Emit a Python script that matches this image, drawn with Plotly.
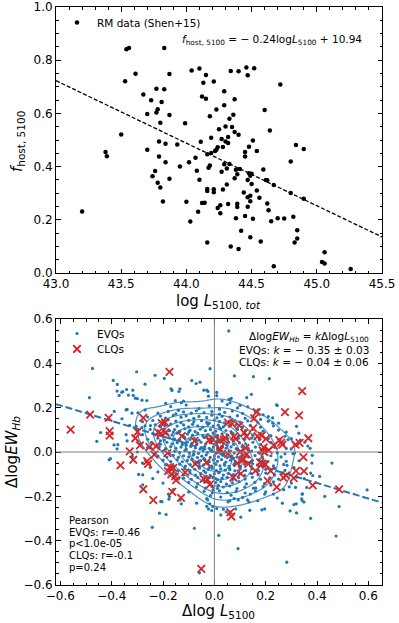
import numpy as np
import plotly.graph_objects as go

W, H = 399, 623

# ---------------- data: top panel (RM sample) ----------------
rm_points = [
    (43.20, 0.231), (43.38, 0.455), (43.39, 0.439), (43.50, 0.521), (43.53, 0.721),
    (43.54, 0.841), (43.56, 0.846), (43.61, 0.749), (43.67, 0.671), (43.70, 0.463),
    (43.70, 0.598), (43.73, 0.649), (43.74, 0.364), (43.76, 0.383), (43.77, 0.603),
    (43.77, 0.693), (43.78, 0.616), (43.78, 0.339), (43.79, 0.438), (43.80, 0.565),
    (43.80, 0.321), (43.79, 0.494), (43.81, 0.643), (43.82, 0.269), (43.83, 0.846),
    (43.83, 0.691), (43.84, 0.416), (43.84, 0.486), (43.87, 0.748), (43.87, 0.594),
    (43.87, 0.354), (43.93, 0.483), (43.95, 0.400), (43.99, 0.563), (44.00, 0.268),
    (44.02, 0.416), (44.03, 0.194), (44.04, 0.761), (44.07, 0.433), (44.08, 0.384),
    (44.09, 0.230), (44.10, 0.769), (44.10, 0.351), (44.11, 0.493), (44.12, 0.664),
    (44.12, 0.263), (44.13, 0.715), (44.14, 0.264), (44.15, 0.655), (44.15, 0.744),
    (44.16, 0.446), (44.16, 0.316), (44.16, 0.308), (44.16, 0.115), (44.17, 0.396),
    (44.18, 0.589), (44.18, 0.404), (44.19, 0.451), (44.19, 0.508), (44.21, 0.720),
    (44.21, 0.315), (44.21, 0.304), (44.22, 0.459), (44.23, 0.463), (44.23, 0.615),
    (44.24, 0.473), (44.24, 0.244), (44.25, 0.540), (44.26, 0.225), (44.26, 0.255),
    (44.27, 0.381), (44.27, 0.504), (44.28, 0.314), (44.28, 0.474), (44.29, 0.631),
    (44.29, 0.409), (44.29, 0.683), (44.30, 0.494), (44.30, 0.551), (44.31, 0.393),
    (44.31, 0.333), (44.32, 0.489), (44.32, 0.259), (44.32, 0.511), (44.33, 0.580),
    (44.33, 0.410), (44.34, 0.759), (44.34, 0.100), (44.35, 0.549), (44.36, 0.595),
    (44.37, 0.530), (44.37, 0.356), (44.37, 0.653), (44.38, 0.388), (44.38, 0.206),
    (44.39, 0.260), (44.39, 0.248), (44.39, 0.371), (44.40, 0.520), (44.40, 0.758),
    (44.40, 0.090), (44.41, 0.391), (44.42, 0.159), (44.44, 0.303), (44.45, 0.455),
    (44.45, 0.214), (44.45, 0.438), (44.46, 0.773), (44.47, 0.743), (44.47, 0.350),
    (44.47, 0.249), (44.47, 0.285), (44.48, 0.475), (44.48, 0.375), (44.49, 0.134),
    (44.49, 0.290), (44.49, 0.270), (44.49, 0.366), (44.50, 0.373), (44.50, 0.335),
    (44.51, 0.498), (44.51, 0.204), (44.52, 0.770), (44.54, 0.459), (44.54, 0.310),
    (44.56, 0.283), (44.57, 0.118), (44.59, 0.389), (44.60, 0.613), (44.61, 0.350),
    (44.62, 0.349), (44.62, 0.261), (44.63, 0.236), (44.64, 0.536), (44.65, 0.195),
    (44.67, 0.331), (44.67, 0.025), (44.70, 0.206), (44.72, 0.709), (44.75, 0.205),
    (44.80, 0.419), (44.80, 0.301), (44.82, 0.211), (44.83, 0.115), (44.84, 0.481),
    (44.85, 0.130), (44.85, 0.161), (44.90, 0.466), (44.90, 0.279), (45.04, 0.041),
    (45.06, 0.036), (45.06, 0.078), (45.26, 0.015),
]
top_fit_slope = -0.235
top_fit_intercept = 10.828

top_xticks = [43.0, 43.5, 44.0, 44.5, 45.0, 45.5]
top_xticktext = ["43.0", "43.5", "44.0", "44.5", "45.0", "45.5"]
top_yticks = [0.0, 0.2, 0.4, 0.6, 0.8, 1.0]
top_yticktext = ["0.0", "0.2", "0.4", "0.6", "0.8", "1.0"]

# ---------------- data: bottom panel ----------------
clq_points = [
    (-0.560, 0.101), (-0.484, 0.169), (-0.412, 0.154), (-0.408, 0.094), (-0.408, 0.074),
    (-0.366, -0.060), (-0.330, 0.003), (-0.316, -0.035), (-0.308, 0.062), (-0.299, 0.091),
    (-0.290, 0.030), (-0.277, 0.154), (-0.277, -0.168), (-0.262, -0.041), (-0.258, -0.054),
    (-0.253, 0.023), (-0.238, -0.217), (-0.234, -0.012), (-0.227, 0.026), (-0.219, 0.089),
    (-0.209, 0.083), (-0.205, 0.130), (-0.192, 0.134), (-0.190, 0.088), (-0.183, -0.005),
    (-0.181, -0.086), (-0.175, 0.361), (-0.173, -0.068), (-0.168, -0.101), (-0.164, -0.180),
    (-0.160, -0.072), (-0.153, -0.110), (-0.149, -0.127), (-0.127, 0.072), (-0.130, -0.207),
    (-0.114, -0.092), (-0.077, 0.050), (-0.074, -0.054), (-0.051, -0.527), (-0.042, -0.121),
    (-0.031, -0.047), (-0.027, -0.125), (-0.021, 0.053), (-0.017, -0.146), (-0.006, 0.057),
    (0.021, 0.015), (0.023, 0.008), (0.022, 0.054), (0.036, 0.056), (0.043, 0.063),
    (0.053, -0.008), (0.053, 0.133), (0.062, -0.272), (0.066, -0.291), (0.069, 0.127),
    (0.074, -0.115), (0.077, 0.071), (0.083, 0.059), (0.090, -0.050), (0.097, 0.119),
    (0.101, 0.002), (0.103, -0.098), (0.108, -0.038), (0.113, -0.033), (0.116, 0.086),
    (0.121, 0.018), (0.125, 0.071), (0.126, -0.011), (0.132, -0.054), (0.151, 0.107),
    (0.155, 0.152), (0.160, -0.085), (0.165, 0.180), (0.168, 0.071), (0.178, -0.047),
    (0.184, 0.074), (0.186, -0.053), (0.188, 0.006), (0.192, 0.021), (0.195, 0.000),
    (0.201, 0.059), (0.208, -0.130), (0.219, -0.085), (0.232, 0.030), (0.243, -0.158),
    (0.253, 0.054), (0.260, 0.042), (0.265, 0.033), (0.269, -0.116), (0.275, 0.180),
    (0.309, -0.118), (0.316, 0.033), (0.318, -0.085), (0.330, 0.165), (0.332, 0.041),
    (0.342, 0.275), (0.347, -0.023), (0.349, -0.086), (0.366, 0.062), (0.383, -0.151),
    (0.486, -0.169), (0.279, -0.106), (0.199, -0.056), (0.212, 0.008),
]

evq_points = [
    # scattered outliers
    (0.056, 0.546), (-0.475, 0.377), (-0.017, 0.376), (-0.487, 0.245), (-0.394, 0.323),
    (-0.378, 0.305), (-0.303, 0.362), (-0.270, 0.306), (-0.231, 0.346), (-0.195, 0.332),
    (-0.169, 0.285), (-0.134, 0.285), (-0.138, 0.273), (-0.088, 0.322), (-0.056, 0.315),
    (-0.029, 0.279), (-0.025, 0.273), (-0.023, 0.252), (0.078, 0.343), (0.152, 0.340),
    (0.214, 0.331), (0.242, 0.213), (0.126, 0.245), (0.144, 0.260), (0.061, 0.237),
    (0.066, 0.242), (-0.458, 0.048), (-0.443, 0.088), (-0.410, -0.035), (-0.405, -0.030),
    (-0.391, 0.032), (-0.379, 0.275), (-0.371, 0.255), (-0.357, 0.272), (-0.344, 0.190),
    (-0.342, 0.282), (-0.335, 0.257), (-0.318, 0.279), (-0.316, 0.255), (-0.308, 0.243),
    (-0.295, -0.101), (-0.279, -0.148), (-0.242, -0.340), (-0.214, -0.276), (-0.209, -0.223),
    (-0.188, -0.282), (-0.179, -0.190), (-0.177, -0.213), (-0.134, -0.216), (-0.129, -0.234),
    (-0.078, -0.344), (-0.069, -0.231), (-0.030, -0.245), (-0.023, -0.257), (-0.018, -0.234),
    (-0.010, -0.264), (0.017, -0.376), (0.035, -0.258), (0.092, -0.436), (0.083, -0.257),
    (0.103, -0.294), (0.282, -0.497), (0.310, -0.237), (0.319, -0.234), (0.342, -0.219),
    (0.375, -0.299), (0.342, -0.190), (0.458, -0.050), (0.474, -0.379), (0.486, -0.246),
    (0.595, -0.171), (0.383, -0.106), (0.375, -0.095), (0.352, 0.044), (0.364, 0.027),
    (0.373, 0.017), (0.329, 0.085), (0.335, 0.054), (0.299, 0.014), (0.306, -0.008),
    (0.275, -0.008), (0.283, -0.060), (0.230, -0.190), (0.196, -0.190), (0.161, -0.163),
    (0.169, -0.220), (-0.058, -0.545), (-0.390, 0.183), (-0.376, 0.033), (-0.379, 0.014),
    (-0.361, 0.269), (-0.300, 0.241), (-0.282, 0.234), (-0.263, 0.232), (-0.165, 0.278),
    (-0.152, 0.232), (-0.129, 0.222), (-0.071, 0.309), (-0.041, 0.279), (-0.340, 0.192),
    (-0.321, 0.175), (-0.298, 0.177), (-0.305, 0.116), (-0.282, 0.110), (-0.249, 0.119),
    (-0.344, 0.078), (0.312, -0.005), (0.381, -0.015), (0.009, -0.255), (0.025, -0.284),
    (0.046, -0.270), (0.138, -0.263), (0.185, -0.261), (0.196, -0.257), (0.295, -0.266),
    (0.320, -0.275), (0.265, -0.231), (0.340, -0.211), (0.349, -0.226), (0.245, -0.208),
    (0.343, -0.189), (0.292, -0.157), (0.316, -0.160), (0.321, -0.113), (0.129, -0.216),
    (0.134, -0.225), (0.053, -0.225), (0.077, -0.210), (0.093, -0.216), (0.009, 0.269),
    (0.009, 0.254), (0.057, 0.237), (0.061, 0.222), (0.245, 0.210), (0.320, 0.116),
    (0.227, 0.154), (0.227, 0.131), (0.275, 0.071), (0.287, 0.056), (0.320, 0.030),
    (-0.279, -0.103), (-0.204, -0.224), (-0.175, -0.201), (-0.026, -0.216), (-0.006, -0.246),
    (-0.36, 0.15), (-0.33, 0.12), (-0.34, 0.05), (-0.32, -0.02), (-0.30, 0.00),
    (-0.28, -0.05), (-0.27, 0.19), (-0.25, -0.07), (-0.24, -0.12), (-0.22, -0.09),
    (-0.20, -0.14), (-0.19, 0.22), (-0.16, -0.17), (-0.14, -0.12), (-0.12, 0.23),
    (0.03, 0.23), (0.10, 0.21), (0.17, 0.19), (0.21, 0.16), (0.25, 0.13),
    (0.28, 0.09), (0.30, 0.06), (0.33, -0.04), (0.31, -0.07), (0.30, -0.14),
    (0.27, -0.17), (0.22, -0.15), (0.20, -0.18), (0.14, -0.19), (0.06, -0.22),
    (-0.03, -0.21), (-0.10, -0.18), (-0.21, 0.05), (-0.26, 0.02), (0.35, -0.12),
    (0.38, -0.05), (0.36, -0.16), (0.41, -0.11), (0.43, -0.20),
    # dense core
    (-0.17, 0.205), (-0.11, 0.212), (-0.06, 0.196), (-0.02, 0.208), (0.02, 0.193),
    (0.05, 0.214), (0.09, 0.199), (-0.14, 0.188), (0.13, 0.204),
    (-0.22, 0.176), (-0.18, 0.183), (-0.15, 0.172), (-0.12, 0.181), (-0.09, 0.175),
    (-0.07, 0.186), (-0.04, 0.178), (-0.01, 0.183), (0.02, 0.171), (0.04, 0.179),
    (0.07, 0.185), (0.11, 0.174), (0.16, 0.182), (0.19, 0.168),
    (-0.26, 0.158), (-0.21, 0.162), (-0.19, 0.153), (-0.16, 0.165), (-0.13, 0.157),
    (-0.11, 0.163), (-0.08, 0.152), (-0.06, 0.161), (-0.03, 0.156), (-0.01, 0.166),
    (0.01, 0.154), (0.03, 0.161), (0.06, 0.158), (0.09, 0.164), (0.12, 0.152),
    (0.15, 0.159), (0.18, 0.147),
    (-0.28, 0.137), (-0.24, 0.142), (-0.20, 0.134), (-0.18, 0.145), (-0.15, 0.139),
    (-0.13, 0.132), (-0.10, 0.143), (-0.08, 0.136), (-0.05, 0.141), (-0.03, 0.133),
    (0.00, 0.144), (0.02, 0.138), (0.04, 0.131), (0.07, 0.142), (0.10, 0.135),
    (0.13, 0.140), (0.17, 0.131), (0.21, 0.139),
    (-0.27, 0.118), (-0.23, 0.123), (-0.21, 0.114), (-0.19, 0.121), (-0.17, 0.126),
    (-0.145, 0.117), (-0.12, 0.122), (-0.10, 0.113), (-0.085, 0.125), (-0.065, 0.118),
    (-0.045, 0.112), (-0.025, 0.124), (-0.005, 0.117), (0.015, 0.121), (0.035, 0.113),
    (0.06, 0.119), (0.085, 0.124), (0.11, 0.114), (0.14, 0.120), (0.18, 0.112),
    (0.23, 0.118),
    (-0.30, 0.097), (-0.25, 0.102), (-0.22, 0.094), (-0.195, 0.104), (-0.175, 0.096),
    (-0.155, 0.101), (-0.135, 0.093), (-0.115, 0.105), (-0.095, 0.098), (-0.075, 0.092),
    (-0.055, 0.103), (-0.035, 0.096), (-0.015, 0.101), (0.005, 0.094), (0.025, 0.104),
    (0.045, 0.097), (0.065, 0.092), (0.09, 0.102), (0.12, 0.096), (0.15, 0.103),
    (0.19, 0.094), (0.25, 0.099),
    (-0.28, 0.078), (-0.24, 0.083), (-0.21, 0.075), (-0.185, 0.082), (-0.165, 0.077),
    (-0.145, 0.085), (-0.125, 0.074), (-0.105, 0.081), (-0.085, 0.076), (-0.065, 0.084),
    (-0.045, 0.073), (-0.025, 0.079), (-0.005, 0.086), (0.012, 0.075), (0.03, 0.082),
    (0.05, 0.077), (0.072, 0.084), (0.095, 0.074), (0.12, 0.081), (0.15, 0.076),
    (0.18, 0.083), (0.22, 0.074),
    (-0.26, 0.057), (-0.22, 0.062), (-0.195, 0.054), (-0.175, 0.063), (-0.155, 0.058),
    (-0.135, 0.052), (-0.115, 0.064), (-0.095, 0.056), (-0.078, 0.061), (-0.06, 0.053),
    (-0.04, 0.065), (-0.022, 0.058), (-0.005, 0.052), (0.013, 0.063), (0.032, 0.056),
    (0.052, 0.061), (0.072, 0.054), (0.094, 0.062), (0.118, 0.057), (0.145, 0.063),
    (0.175, 0.055), (0.21, 0.061), (0.255, 0.056),
    (-0.29, 0.038), (-0.245, 0.043), (-0.21, 0.035), (-0.185, 0.044), (-0.165, 0.037),
    (-0.145, 0.042), (-0.125, 0.034), (-0.105, 0.045), (-0.088, 0.039), (-0.07, 0.033),
    (-0.052, 0.044), (-0.034, 0.036), (-0.016, 0.042), (0.0, 0.035), (0.018, 0.045),
    (0.036, 0.038), (0.055, 0.043), (0.075, 0.034), (0.098, 0.041), (0.122, 0.036),
    (0.15, 0.044), (0.18, 0.035), (0.22, 0.042), (0.27, 0.037),
    (-0.25, 0.018), (-0.215, 0.023), (-0.19, 0.015), (-0.17, 0.024), (-0.15, 0.017),
    (-0.13, 0.022), (-0.11, 0.014), (-0.092, 0.025), (-0.074, 0.018), (-0.056, 0.013),
    (-0.038, 0.024), (-0.02, 0.016), (-0.004, 0.022), (0.012, 0.014), (0.028, 0.025),
    (0.046, 0.017), (0.065, 0.023), (0.085, 0.015), (0.108, 0.024), (0.132, 0.016),
    (0.16, 0.022), (0.195, 0.014), (0.235, 0.021), (0.28, 0.016),
    (-0.23, -0.003), (-0.20, 0.004), (-0.175, -0.005), (-0.155, 0.003), (-0.135, -0.002),
    (-0.115, 0.006), (-0.097, -0.004), (-0.08, 0.002), (-0.062, -0.006), (-0.044, 0.005),
    (-0.027, -0.002), (-0.01, 0.004), (0.006, -0.005), (0.022, 0.003), (0.039, -0.003),
    (0.057, 0.005), (0.077, -0.004), (0.098, 0.002), (0.12, -0.005), (0.145, 0.004),
    (0.172, -0.003), (0.205, 0.003), (0.245, -0.004),
    (-0.22, -0.018), (-0.185, -0.023), (-0.16, -0.015), (-0.14, -0.024), (-0.12, -0.017),
    (-0.10, -0.022), (-0.083, -0.014), (-0.066, -0.025), (-0.049, -0.019), (-0.032, -0.013),
    (-0.016, -0.024), (0.0, -0.017), (0.016, -0.022), (0.033, -0.015), (0.05, -0.025),
    (0.068, -0.018), (0.088, -0.023), (0.11, -0.015), (0.133, -0.022), (0.158, -0.016),
    (0.185, -0.024), (0.22, -0.017), (0.26, -0.022),
    (-0.20, -0.037), (-0.17, -0.043), (-0.145, -0.035), (-0.125, -0.044), (-0.105, -0.038),
    (-0.088, -0.033), (-0.071, -0.045), (-0.054, -0.039), (-0.037, -0.034), (-0.02, -0.044),
    (-0.004, -0.036), (0.012, -0.042), (0.028, -0.034), (0.045, -0.045), (0.063, -0.037),
    (0.082, -0.043), (0.102, -0.035), (0.124, -0.044), (0.148, -0.038), (0.175, -0.034),
    (0.205, -0.043), (0.24, -0.036), (0.28, -0.042),
    (-0.19, -0.058), (-0.16, -0.063), (-0.135, -0.055), (-0.113, -0.064), (-0.094, -0.057),
    (-0.076, -0.053), (-0.059, -0.065), (-0.042, -0.058), (-0.026, -0.054), (-0.01, -0.064),
    (0.006, -0.056), (0.022, -0.062), (0.039, -0.054), (0.057, -0.065), (0.076, -0.057),
    (0.096, -0.063), (0.118, -0.055), (0.142, -0.064), (0.168, -0.058), (0.198, -0.053),
    (0.23, -0.063), (0.27, -0.056),
    (-0.17, -0.077), (-0.14, -0.083), (-0.115, -0.075), (-0.095, -0.084), (-0.076, -0.078),
    (-0.058, -0.073), (-0.041, -0.085), (-0.024, -0.079), (-0.008, -0.074), (0.008, -0.084),
    (0.025, -0.076), (0.042, -0.082), (0.06, -0.075), (0.08, -0.085), (0.10, -0.077),
    (0.122, -0.083), (0.146, -0.075), (0.172, -0.084), (0.20, -0.078), (0.235, -0.074),
    (0.275, -0.083),
    (-0.15, -0.097), (-0.12, -0.103), (-0.095, -0.095), (-0.073, -0.104), (-0.053, -0.098),
    (-0.034, -0.093), (-0.016, -0.105), (0.0, -0.098), (0.017, -0.094), (0.035, -0.104),
    (0.054, -0.096), (0.074, -0.102), (0.095, -0.094), (0.118, -0.105), (0.143, -0.097),
    (0.17, -0.103), (0.20, -0.095), (0.235, -0.104), (0.265, -0.097),
    (-0.12, -0.118), (-0.09, -0.123), (-0.065, -0.115), (-0.043, -0.124), (-0.023, -0.117),
    (-0.005, -0.113), (0.012, -0.125), (0.03, -0.118), (0.05, -0.114), (0.071, -0.124),
    (0.094, -0.116), (0.12, -0.122), (0.148, -0.114), (0.18, -0.123), (0.215, -0.117),
    (0.25, -0.122),
    (-0.10, -0.137), (-0.065, -0.143), (-0.038, -0.135), (-0.015, -0.144), (0.005, -0.138),
    (0.025, -0.133), (0.047, -0.145), (0.07, -0.139), (0.096, -0.134), (0.125, -0.144),
    (0.158, -0.137), (0.195, -0.143), (0.23, -0.135),
    (-0.07, -0.157), (-0.035, -0.163), (-0.01, -0.155), (0.012, -0.164), (0.035, -0.158),
    (0.06, -0.153), (0.088, -0.165), (0.118, -0.158), (0.152, -0.163), (0.19, -0.156),
    (-0.04, -0.177), (-0.008, -0.184), (0.02, -0.175), (0.05, -0.183), (0.085, -0.178),
    (0.12, -0.185), (0.16, -0.176),
    (-0.015, -0.197), (0.025, -0.203), (0.065, -0.195), (0.11, -0.205),
    (-0.09, 0.03), (-0.07, 0.05), (-0.05, 0.02), (-0.03, 0.07), (-0.01, 0.01),
    (0.01, 0.05), (0.03, -0.01), (0.05, 0.03), (0.07, -0.03), (0.09, 0.01),
    (-0.08, -0.01), (-0.06, -0.05), (-0.04, -0.03), (-0.02, -0.07), (0.0, -0.05),
    (0.02, -0.09), (0.04, -0.06), (0.06, -0.08), (0.08, -0.05), (0.10, -0.07),
    (-0.12, 0.07), (-0.10, 0.09), (-0.14, 0.05), (-0.16, 0.09), (-0.11, 0.03),
    (0.00, 0.08), (0.02, 0.11), (-0.02, 0.13), (0.005, -0.12), (0.015, -0.15),
    (-0.005, -0.17), (0.00, -0.03), (0.01, 0.03), (-0.015, 0.05),
]
k_evq = -0.35          # EVQ slope (dashed line)
contour_levels = (0.12, 0.70, 0.116)   # enclosed-mass levels: start, end, step

bot_ticks = [-0.6, -0.4, -0.2, 0.0, 0.2, 0.4, 0.6]
bot_ticktext = ["\u22120.6", "\u22120.4", "\u22120.2", "0.0", "0.2", "0.4", "0.6"]

# ---------------- helpers ----------------
def fx(px):
    return px / W

def fy(py):
    return 1 - py / H

C0 = "#1f77b4"
C3 = "#d62728"
FONT = "DejaVu Sans"

rm_x = [p[0] for p in rm_points]
rm_y = [p[1] for p in rm_points]
clq_x = [p[0] for p in clq_points]
clq_y = [p[1] for p in clq_points]
evq_x = np.array([p[0] for p in evq_points])
evq_y = np.array([p[1] for p in evq_points])

top_xr = [43.0, 45.5]
bot_xr = [-0.617, 0.653]
bot_yr = [-0.6, 0.6]

fig = go.Figure()

# top panel
fig.add_trace(go.Scatter(x=rm_x, y=rm_y, mode="markers", name="RM data (Shen+15)",
                         marker=dict(color="black", size=4.5), xaxis="x", yaxis="y",
                         legend="legend"))
lx = np.array(top_xr)
fig.add_trace(go.Scatter(x=lx, y=top_fit_slope * lx + top_fit_intercept, mode="lines",
                         line=dict(color="black", width=1.3, dash="4px,2px"),
                         showlegend=False, xaxis="x", yaxis="y"))

# bottom panel: EVQ scatter
fig.add_trace(go.Scatter(x=evq_x, y=evq_y, mode="markers", name="EVQs",
                         marker=dict(color=C0, size=3.2), xaxis="x2", yaxis="y2",
                         legend="legend2"))

# KDE contours of EVQs (iso-proportion)
data = np.vstack([evq_x, evq_y])
n = data.shape[1]
cov = np.cov(data) * n ** (-2.0 / 6)
inv = np.linalg.inv(cov)
gx = np.linspace(bot_xr[0], bot_xr[1], 220)
gy = np.linspace(bot_yr[0], bot_yr[1], 220)
GX, GY = np.meshgrid(gx, gy)
dens = np.zeros_like(GX)
for xi, yi in zip(evq_x, evq_y):
    dx = GX - xi
    dy = GY - yi
    q = inv[0, 0] * dx * dx + 2 * inv[0, 1] * dx * dy + inv[1, 1] * dy * dy
    dens += np.exp(-0.5 * q)
flat = dens.ravel()
order = np.argsort(flat)[::-1]
cum = np.cumsum(flat[order])
cum /= cum[-1]
enc = np.empty_like(flat)
enc[order] = cum
enc = enc.reshape(dens.shape)
cc = "rgba(31,119,180,0.8)"
fig.add_trace(go.Contour(x=gx, y=gy, z=enc, xaxis="x2", yaxis="y2",
                         contours=dict(coloring="lines", start=contour_levels[0],
                                       end=contour_levels[1], size=contour_levels[2]),
                         line=dict(width=1.2, smoothing=1.3),
                         colorscale=[[0, cc], [1, cc]], showscale=False,
                         hoverinfo="skip", showlegend=False))

bx = np.array(bot_xr)
fig.add_trace(go.Scatter(x=bx, y=k_evq * bx, mode="lines",
                         line=dict(color=C0, width=2, dash="7px,3px"),
                         showlegend=False, xaxis="x2", yaxis="y2"))

fig.add_trace(go.Scatter(x=clq_x, y=clq_y, mode="markers", name="CLQs",
                         marker=dict(symbol="x-thin", size=7.5,
                                     line=dict(color=C3, width=1.8), color=C3),
                         xaxis="x2", yaxis="y2", legend="legend3"))

axis_common = dict(showline=True, linecolor="black", linewidth=1, mirror="allticks",
                   ticks="inside", ticklen=4.5, tickwidth=1, tickcolor="black",
                   showgrid=False, zeroline=False, automargin=False,
                   tickfont=dict(family=FONT, size=12, color="black"))

dom_x = [fx(56), fx(382)]
leg_common = dict(xanchor="left", yanchor="middle", bgcolor="rgba(0,0,0,0)",
                  font=dict(family=FONT, size=10.5, color="black"),
                  borderwidth=0)
fig.update_layout(
    width=W, height=H, margin=dict(l=0, r=0, t=0, b=0, autoexpand=False),
    paper_bgcolor="white", plot_bgcolor="white",
    font=dict(family=FONT, color="black"),
    xaxis=dict(domain=dom_x, range=top_xr, anchor="y", tickvals=top_xticks,
               ticktext=top_xticktext,
               minor=dict(ticks="inside", ticklen=2.5, dtick=0.1, tick0=43.0,
                          tickcolor="black"), **axis_common),
    yaxis=dict(domain=[fy(273), fy(7)], range=[0, 1], anchor="x", tickvals=top_yticks,
               ticktext=top_yticktext,
               minor=dict(ticks="inside", ticklen=2.5, dtick=0.05, tick0=0,
                          tickcolor="black"), **axis_common),
    xaxis2=dict(domain=dom_x, range=bot_xr, anchor="y2", tickvals=bot_ticks,
                ticktext=bot_ticktext,
                minor=dict(ticks="inside", ticklen=2.5, dtick=0.05, tick0=0,
                           tickcolor="black"), **axis_common),
    yaxis2=dict(domain=[fy(585), fy(319)], range=bot_yr, anchor="x2", tickvals=bot_ticks,
                ticktext=bot_ticktext,
                minor=dict(ticks="inside", ticklen=2.5, dtick=0.05, tick0=0,
                           tickcolor="black"), **axis_common),
    legend=dict(x=fx(57), y=fy(22.5), **leg_common),
    legend2=dict(x=fx(57), y=fy(333.5), **leg_common),
    legend3=dict(x=fx(57), y=fy(349), **leg_common),
    showlegend=True,
)

shapes = [
    dict(type="line", xref="x2", yref="y2 domain", x0=0, x1=0, y0=0, y1=1,
         line=dict(color="gray", width=1), layer="above"),
    dict(type="line", xref="x2 domain", yref="y2", x0=0, x1=1, y0=0, y1=0,
         line=dict(color="gray", width=1), layer="above"),
]
fig.update_layout(shapes=shapes)

ann = []
def A(text, x, y, size, xanchor="center", yanchor="middle", angle=0):
    ann.append(dict(text=text, x=fx(x), y=fy(y), xref="paper", yref="paper",
                    xanchor=xanchor, yanchor=yanchor, showarrow=False, textangle=angle,
                    font=dict(family=FONT, size=size, color="black")))

# axis titles
A("log <i>L</i><sub>5100, <i>tot</i></sub>", 218, 302, 15)
A("<i>f</i><sub>host, 5100</sub>", 18, 142, 15, angle=-90)
A("\u0394log <i>L</i><sub>5100</sub>", 218, 611, 15)
A("\u0394log<i>EW</i><sub><i>Hb</i></sub>", 12, 452, 15, angle=-90)

# top equation
A("<i>f</i><sub>host, 5100</sub> = \u2212 0.24log<i>L</i><sub>5100</sub> + 10.94",
  364, 40, 10.5, xanchor="right")

# bottom-right fit text
A("\u0394log<i>EW</i><sub><i>Hb</i></sub> = <i>k</i>\u0394log<i>L</i><sub>5100</sub>",
  371, 337, 10.5, xanchor="right")
A("EVQs: <i>k</i> = \u2212 0.35 \u00b1 0.03", 371, 349.5, 10.5, xanchor="right")
A("CLQs: <i>k</i> = \u2212 0.04 \u00b1 0.06", 371, 361.5, 10.5, xanchor="right")

# Pearson block
pearson_lines = ["Pearson", "EVQs: r=-0.46", "p&lt;1.0e-05", "CLQs: r=-0.1", "p=0.24"]
for i, t in enumerate(pearson_lines):
    A(t, 66.5, 520.5 + i * 11.7, 10, xanchor="left")

fig.update_layout(annotations=ann)
fig.write_html("out.html",
               config={"displayModeBar": False, "staticPlot": True},
               post_script="document.body.style.margin='0';"
                           "document.body.style.overflow='hidden';")
